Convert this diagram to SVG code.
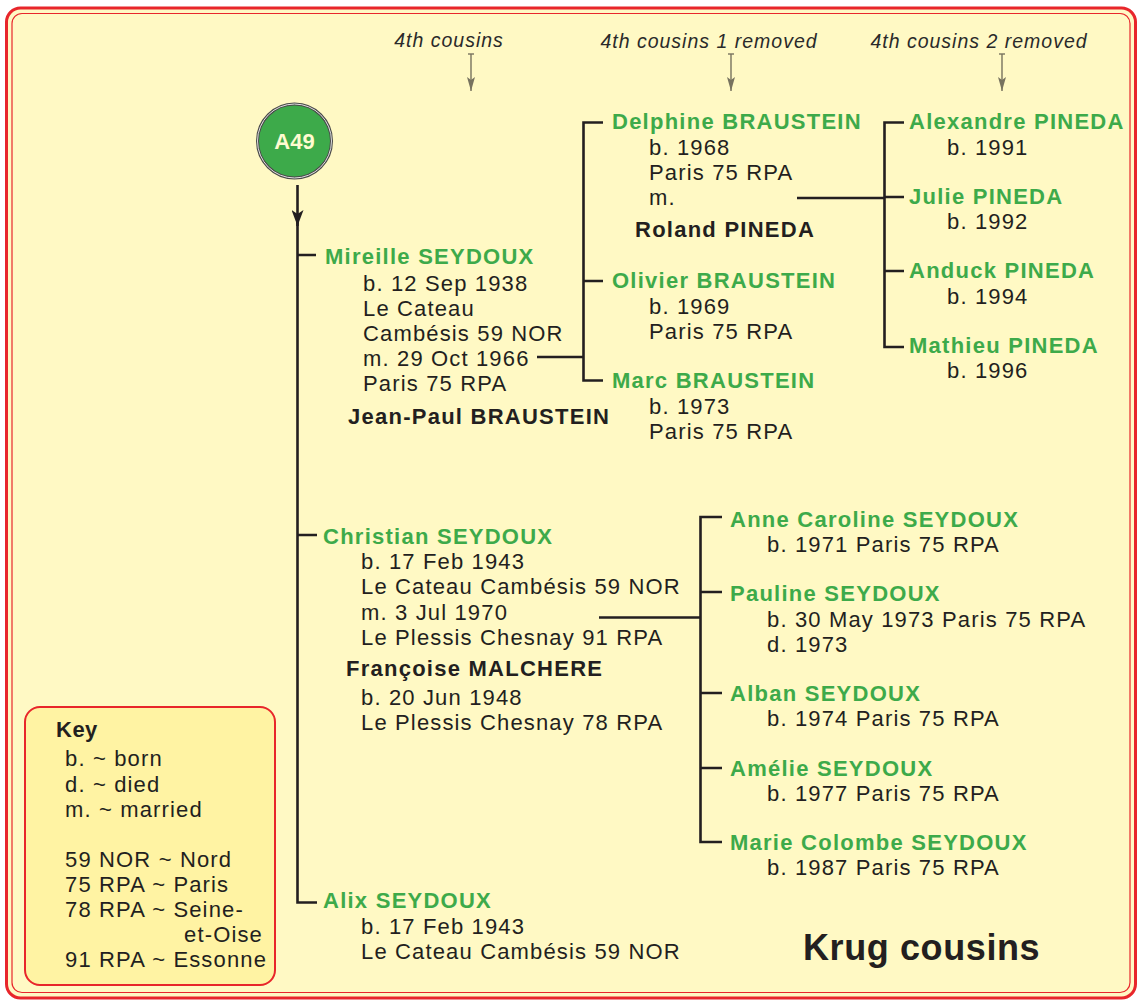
<svg xmlns="http://www.w3.org/2000/svg" width="1137" height="1000" viewBox="0 0 1137 1000">
<style>
text{font-family:"Liberation Sans",Arial,sans-serif;}
.n{font-size:22px;font-weight:bold;fill:#3DAA4A;letter-spacing:1.25px;}
.d{font-size:22px;fill:#231F20;letter-spacing:1.15px;}
.s{font-size:22px;font-weight:bold;fill:#231F20;letter-spacing:1.25px;}
.h{font-size:19.5px;font-style:italic;fill:#2a2a2a;letter-spacing:1px;text-anchor:middle;}
.c{stroke:#231F20;stroke-width:2.6;fill:none;}
.ga{stroke:#77735f;stroke-width:1.4;fill:none;}
</style>
<defs>
<marker id="ah" viewBox="0 0 16 12" refX="16" refY="6" markerWidth="16" markerHeight="12" markerUnits="userSpaceOnUse" orient="auto">
<path d="M0,0 L4,6 L0,12 L16,6 Z" fill="#231F20"/>
</marker>
<marker id="gh" viewBox="0 0 14 8" refX="14" refY="4" markerWidth="14" markerHeight="8" markerUnits="userSpaceOnUse" orient="auto">
<path d="M0,0 L3,4 L0,8 L14,4 Z" fill="#77735f"/>
</marker>
</defs>
<rect x="0" y="0" width="1137" height="1000" fill="#ffffff"/>
<rect x="6.5" y="8" width="1129" height="990" rx="14" fill="#FFF9C4" stroke="#E8262B" stroke-width="3"/>
<rect x="12" y="13.5" width="1118" height="979" rx="10" fill="none" stroke="#E8262B" stroke-width="1.2"/>

<g id="headers">
<text class="h" x="449" y="47">4th cousins</text>
<text class="h" x="709" y="48">4th cousins 1 removed</text>
<text class="h" x="979" y="48">4th cousins 2 removed</text>
<path class="ga" d="M468,54 h6"/>
<path class="ga" d="M728,54 h6"/>
<path class="ga" d="M999,54 h6"/>
<line class="ga" x1="471" y1="54" x2="471" y2="91" marker-end="url(#gh)"/>
<line class="ga" x1="731" y1="54" x2="731" y2="91" marker-end="url(#gh)"/>
<line class="ga" x1="1002" y1="54" x2="1002" y2="91" marker-end="url(#gh)"/>
</g>

<g id="connectors">
<line class="c" x1="297.5" y1="185" x2="297.5" y2="226" marker-end="url(#ah)"/>
<path class="c" d="M297.5,222 V902.5 H317 M297.5,255 H316 M297.5,535 H317"/>
<path class="c" d="M537,357 H583.5 M603,122.5 H583.5 V380.5 H603 M583.5,281 H603"/>
<path class="c" d="M797,198 H884.5 M904,122.5 H884.5 V347 H904 M884.5,197 H904 M884.5,271 H904"/>
<path class="c" d="M599,617.5 H700.5 M722,517 H700.5 V842 H722 M700.5,592 H722 M700.5,693 H722 M700.5,768 H722"/>
</g>

<g id="A49">
<circle cx="294.5" cy="141" r="37" fill="#3DAA4A" stroke="#4a4a4a" stroke-width="3"/>
<circle cx="294.5" cy="141" r="37" fill="none" stroke="#e0e0e0" stroke-width="1"/>
<text x="294.5" y="149" text-anchor="middle" style="font-size:22px;font-weight:bold;fill:#FFFBD0;">A49</text>
</g>

<g id="mireille">
<text class="n" x="325" y="264">Mireille SEYDOUX</text>
<text class="d" x="363" y="291">b. 12 Sep 1938</text>
<text class="d" x="363" y="316">Le Cateau</text>
<text class="d" x="363" y="341">Cambésis 59 NOR</text>
<text class="d" x="363" y="366">m. 29 Oct 1966</text>
<text class="d" x="363" y="391">Paris 75 RPA</text>
<text class="s" x="348" y="424">Jean-Paul BRAUSTEIN</text>
</g>

<g id="delphine">
<text class="n" x="612" y="129">Delphine BRAUSTEIN</text>
<text class="d" x="649" y="155">b. 1968</text>
<text class="d" x="649" y="180">Paris 75 RPA</text>
<text class="d" x="649" y="205">m.</text>
<text class="s" x="635" y="237">Roland PINEDA</text>
</g>

<g id="olivier">
<text class="n" x="612" y="288">Olivier BRAUSTEIN</text>
<text class="d" x="649" y="314">b. 1969</text>
<text class="d" x="649" y="339">Paris 75 RPA</text>
</g>

<g id="marc">
<text class="n" x="612" y="388">Marc BRAUSTEIN</text>
<text class="d" x="649" y="414">b. 1973</text>
<text class="d" x="649" y="439">Paris 75 RPA</text>
</g>

<g id="alexandre">
<text class="n" x="909" y="129">Alexandre PINEDA</text>
<text class="d" x="947" y="155">b. 1991</text>
</g>
<g id="julie">
<text class="n" x="909" y="204">Julie PINEDA</text>
<text class="d" x="947" y="229">b. 1992</text>
</g>
<g id="anduck">
<text class="n" x="909" y="278">Anduck PINEDA</text>
<text class="d" x="947" y="304">b. 1994</text>
</g>
<g id="mathieu">
<text class="n" x="909" y="353">Mathieu PINEDA</text>
<text class="d" x="947" y="378">b. 1996</text>
</g>

<g id="christian">
<text class="n" x="323" y="544">Christian SEYDOUX</text>
<text class="d" x="361" y="569">b. 17 Feb 1943</text>
<text class="d" x="361" y="594">Le Cateau Cambésis 59 NOR</text>
<text class="d" x="361" y="620">m. 3 Jul 1970</text>
<text class="d" x="361" y="645">Le Plessis Chesnay 91 RPA</text>
<text class="s" x="346" y="676">Françoise MALCHERE</text>
<text class="d" x="361" y="705">b. 20 Jun 1948</text>
<text class="d" x="361" y="730">Le Plessis Chesnay 78 RPA</text>
</g>

<g id="anne">
<text class="n" x="730" y="527">Anne Caroline SEYDOUX</text>
<text class="d" x="767" y="552">b. 1971 Paris 75 RPA</text>
</g>
<g id="pauline">
<text class="n" x="730" y="601">Pauline SEYDOUX</text>
<text class="d" x="767" y="627">b. 30 May 1973 Paris 75 RPA</text>
<text class="d" x="767" y="652">d. 1973</text>
</g>
<g id="alban">
<text class="n" x="730" y="701">Alban SEYDOUX</text>
<text class="d" x="767" y="726">b. 1974 Paris 75 RPA</text>
</g>
<g id="amelie">
<text class="n" x="730" y="776">Amélie SEYDOUX</text>
<text class="d" x="767" y="801">b. 1977 Paris 75 RPA</text>
</g>
<g id="marie">
<text class="n" x="730" y="850">Marie Colombe SEYDOUX</text>
<text class="d" x="767" y="875">b. 1987 Paris 75 RPA</text>
</g>

<g id="alix">
<text class="n" x="323" y="908">Alix SEYDOUX</text>
<text class="d" x="361" y="934">b. 17 Feb 1943</text>
<text class="d" x="361" y="959">Le Cateau Cambésis 59 NOR</text>
</g>

<g id="key">
<rect x="25" y="707" width="250" height="278" rx="15" fill="#FFF3A3" stroke="#E8262B" stroke-width="2"/>
<text class="s" x="56" y="737" style="letter-spacing:0.5px">Key</text>
<text class="d" x="65" y="766">b. ~ born</text>
<text class="d" x="65" y="792">d. ~ died</text>
<text class="d" x="65" y="817">m. ~ married</text>
<text class="d" x="65" y="867">59 NOR ~ Nord</text>
<text class="d" x="65" y="892">75 RPA ~ Paris</text>
<text class="d" x="65" y="917">78 RPA ~ Seine-</text>
<text class="d" x="263" y="942" text-anchor="end">et-Oise</text>
<text class="d" x="65" y="967">91 RPA ~ Essonne</text>
</g>

<g id="title">
<text x="803" y="960" style="font-size:36px;font-weight:bold;fill:#231F20;letter-spacing:0.6px;">Krug cousins</text>
</g>
</svg>
